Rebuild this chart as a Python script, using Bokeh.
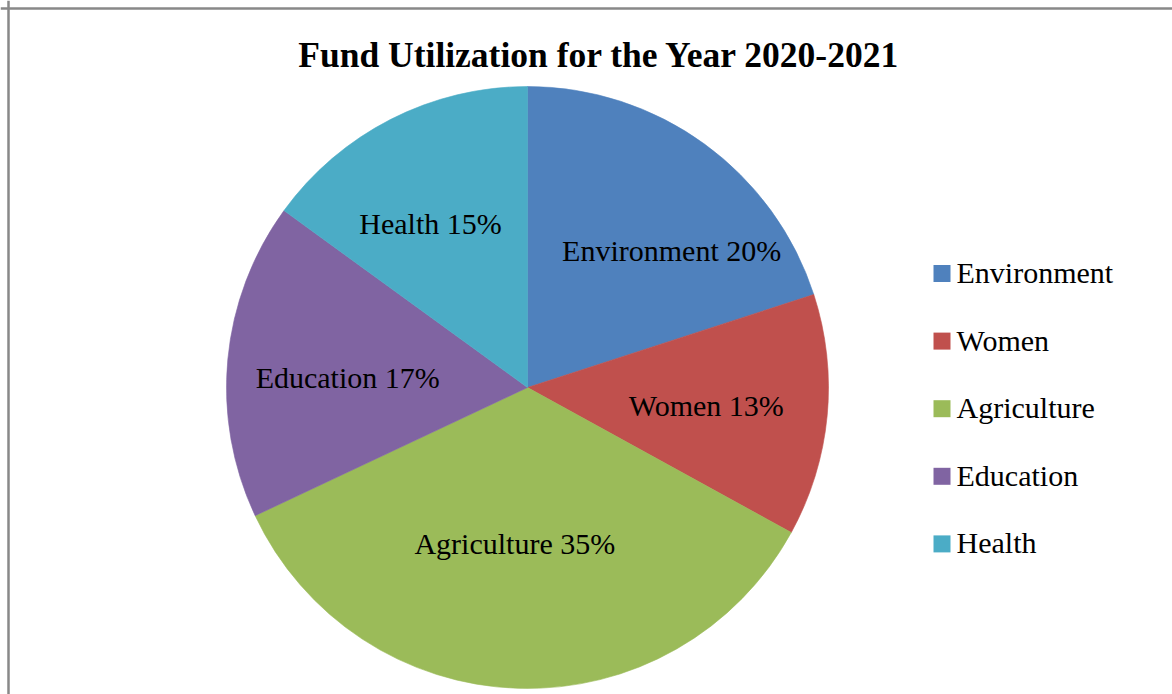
import math
from bokeh.plotting import figure
from bokeh.models import Range1d, Span, ColumnDataSource
from bokeh.core.properties import value
from bokeh.embed import file_html
from bokeh.resources import INLINE

# ---- data ----
categories = ["Environment", "Women", "Agriculture", "Education", "Health"]
percents = [20, 13, 35, 17, 15]
colors = ["#4F81BD", "#C0504D", "#9BBB59", "#8064A2", "#4BACC6"]
title_text = "Fund Utilization for the Year 2020-2021"

# ---- layout (pixels; x right, y up) ----
W, H = 1172, 694
CX, CY, R = 527, 307, 301
FONT = "Liberation Serif"
LABEL_PX = 30
TITLE_PX = 35.5
BASE_FIX = 0.3  # baseline correction (fraction of font size)
# per-label nudges (dx, dy) in pixels from the mid-angle point at 0.6R
label_nudge = [(38, -18), (-1, -10), (-7, 16), (0, -16), (-15, -6)]

p = figure(width=W, height=H, output_backend="svg", toolbar_location=None,
           x_range=Range1d(0, W), y_range=Range1d(0, H), min_border=0)
p.axis.visible = False
p.grid.visible = False
p.outline_line_color = None
p.background_fill_color = "white"
p.border_fill_color = "white"

total = float(sum(percents))
starts, ends, lx, ly, labels = [], [], [], [], []
cum = 0.0
for i, v in enumerate(percents):
    a0 = math.pi / 2 - 2 * math.pi * cum / total
    cum += v
    a1 = math.pi / 2 - 2 * math.pi * cum / total
    starts.append(a0)
    ends.append(a1)
    mid = (a0 + a1) / 2
    lx.append(CX + 0.6 * R * math.cos(mid) + label_nudge[i][0])
    ly.append(CY + 0.6 * R * math.sin(mid) + label_nudge[i][1] + BASE_FIX * LABEL_PX)
    labels.append(f"{categories[i]} {v}%")

src = ColumnDataSource(dict(cat=categories, start=starts, end=ends, color=colors,
                            lx=lx, ly=ly, label=labels))

p.wedge(x=CX, y=CY, radius=R, start_angle="start", end_angle="end",
        direction="clock", fill_color="color", line_color="color", line_width=0.6,
        source=src)

p.text(x="lx", y="ly", text="label", source=src, text_align="center",
       text_baseline="alphabetic", text_font=value(FONT),
       text_font_size=f"{LABEL_PX}px", text_color="black")

# title
p.text(x=[599], y=[H - 65 + BASE_FIX * TITLE_PX], text=[title_text], text_align="center",
       text_baseline="alphabetic", text_font=value(FONT),
       text_font_size=f"{TITLE_PX}px", text_font_style="bold", text_color="black")

# legend (manual)
LEG_X, LEG_Y0, LEG_STEP = 941.5, H - 273, 67.6
leg_y = [LEG_Y0 - i * LEG_STEP for i in range(len(categories))]
leg_src = ColumnDataSource(dict(x=[LEG_X] * len(categories), y=leg_y,
                                tx=[LEG_X + 14.5] * len(categories),
                                ty=[yy - 8 + BASE_FIX * LABEL_PX for yy in leg_y],
                                cat=categories, color=colors))
p.scatter(x="x", y="y", marker="square", size=17, fill_color="color",
          line_color=None, source=leg_src)
p.text(x="tx", y="ty", text="cat", source=leg_src, text_align="left",
       text_baseline="alphabetic", text_font=value(FONT),
       text_font_size=f"{LABEL_PX}px", text_color="black")

# border (top and left edges of the original chart frame)
p.add_layout(Span(location=8, dimension="height", line_color="#888888", line_width=2.5))
p.add_layout(Span(location=H - 8, dimension="width", line_color="#888888", line_width=2.5))

open("out.html", "w").write(file_html(p, INLINE))
